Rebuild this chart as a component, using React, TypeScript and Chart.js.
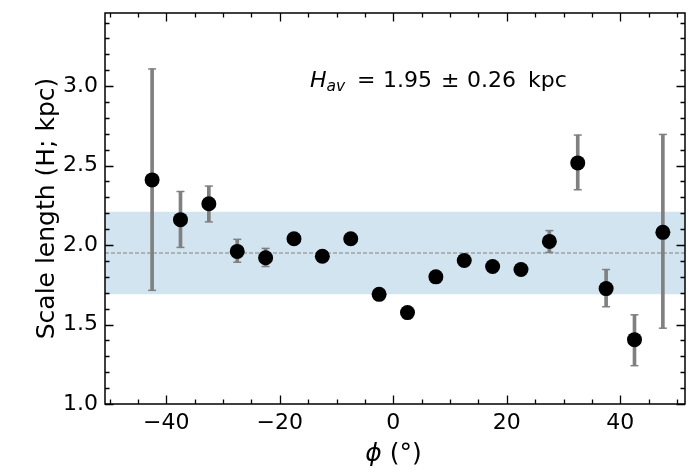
import { useEffect, useRef } from "react";
import { Chart, registerables, type Plugin } from "chart.js";

Chart.register(...registerables);

// azimuth bins (deg)
const phi = [
  -42.5, -37.5, -32.5, -27.5, -22.5, -17.5, -12.5, -7.5, -2.5, 2.5, 7.5, 12.5,
  17.5, 22.5, 27.5, 32.5, 37.5, 42.5, 47.5,
];
// scale length H (kpc)
const scaleLength = [
  2.41, 2.16, 2.26, 1.96, 1.92, 2.04, 1.93, 2.04, 1.69, 1.575, 1.8, 1.903,
  1.865, 1.846, 2.023, 2.517, 1.726, 1.405, 2.08,
];
const errLow = [
  1.715, 1.985, 2.146, 1.892, 1.865, 2.01, 1.9, 2.01, 1.66, 1.545, 1.77, 1.875,
  1.835, 1.816, 1.954, 2.348, 1.612, 1.241, 1.477,
];
const errHigh = [
  3.108, 2.337, 2.371, 2.036, 1.979, 2.07, 1.955, 2.07, 1.72, 1.6, 1.83, 1.93,
  1.895, 1.876, 2.091, 2.692, 1.846, 1.561, 2.696,
];

const hAvg = 1.95;
const hSpread = 0.26;

const xRange = [-50.8, 51.4];
const yRange = [1.0, 3.46];
const xTicks = [-40, -20, 0, 20, 40];
const yTicks = [1.0, 1.5, 2.0, 2.5, 3.0];

const FONT = "DejaVu Sans";
const GREY = "#808080";

const fmtX = (v: number) => (v < 0 ? "\u2212" + Math.abs(v) : String(v));

// frame, inward ticks on all sides, x title and the H_av note
const decor: Plugin<"scatter"> = {
  id: "decor",
  afterDraw(chart) {
    const { ctx, chartArea: a } = chart;
    const xs = chart.scales.x;
    const ys = chart.scales.y;
    ctx.save();
    ctx.strokeStyle = "#000";
    ctx.lineWidth = 1.3;

    const tickX = (v: number, len: number) => {
      const px = Math.round(xs.getPixelForValue(v)) + 0.5;
      ctx.beginPath();
      ctx.moveTo(px, a.bottom);
      ctx.lineTo(px, a.bottom - len);
      ctx.moveTo(px, a.top);
      ctx.lineTo(px, a.top + len);
      ctx.stroke();
    };
    const tickY = (v: number, len: number) => {
      const py = Math.round(ys.getPixelForValue(v)) + 0.5;
      ctx.beginPath();
      ctx.moveTo(a.left, py);
      ctx.lineTo(a.left + len, py);
      ctx.moveTo(a.right, py);
      ctx.lineTo(a.right - len, py);
      ctx.stroke();
    };
    for (let v = -50; v <= 50; v += 5) tickX(v, xTicks.includes(v) ? 8.5 : 4.5);
    for (let k = 10; k <= 34; k++) {
      const v = k / 10;
      tickY(v, k % 5 === 0 ? 8.5 : 4.5);
    }

    ctx.lineWidth = 1.5;
    ctx.strokeRect(a.left, a.top, a.right - a.left, a.bottom - a.top);

    ctx.fillStyle = "#000";
    ctx.textBaseline = "alphabetic";
    ctx.textAlign = "left";

    // x title: italic phi + (°)
    const cx = (a.left + a.right) / 2;
    ctx.font = `italic 25px "${FONT}"`;
    const wPhi = ctx.measureText("\u03d5").width;
    ctx.font = `25px "${FONT}"`;
    const wRest = ctx.measureText(" (\u00b0)").width;
    const x0 = cx - 1.5 - (wPhi + wRest) / 2;
    ctx.font = `italic 25px "${FONT}"`;
    ctx.fillText("\u03d5", x0, 461);
    ctx.font = `25px "${FONT}"`;
    ctx.fillText(" (\u00b0)", x0 + wPhi, 461);

    // annotation
    const base = 87;
    ctx.font = `italic 22px "${FONT}"`;
    ctx.fillText("H", 310, base);
    const wH = ctx.measureText("H").width;
    ctx.font = `italic 15.5px "${FONT}"`;
    ctx.fillText("av", 310 + wH, base + 3.5);
    ctx.font = `22px "${FONT}"`;
    ctx.fillText("=", 357, base);
    ctx.fillText("1.95", 383, base);
    ctx.fillText("\u00b1", 441, base);
    ctx.fillText("0.26", 467, base);
    ctx.fillText("kpc", 528, base);
    ctx.restore();
  },
};

function ScaleLengthChart() {
  const canvasRef = useRef<HTMLCanvasElement | null>(null);

  useEffect(() => {
    const canvas = canvasRef.current;
    if (!canvas) return;

    const chart = new Chart(canvas, {
      type: "scatter",
      data: {
        datasets: [
          {
            type: "line",
            data: [
              { x: xRange[0], y: hAvg + hSpread },
              { x: xRange[1], y: hAvg + hSpread },
            ],
            borderWidth: 0,
            pointRadius: 0,
            fill: { target: { value: hAvg - hSpread } },
            backgroundColor: "rgba(31, 119, 180, 0.2)",
            order: 5,
          },
          {
            type: "line",
            data: [
              { x: xRange[0], y: hAvg },
              { x: xRange[1], y: hAvg },
            ],
            borderColor: GREY,
            borderWidth: 1,
            borderDash: [4, 2],
            pointRadius: 0,
            fill: false,
            order: 4,
          },
          {
            type: "bar",
            data: phi.map((x, i) => ({ x, y: [errLow[i], errHigh[i]] })),
            backgroundColor: GREY,
            borderWidth: 0,
            barThickness: 3,
            order: 3,
          } as any,
          {
            type: "scatter",
            data: phi.flatMap((x, i) => [
              { x, y: errLow[i] },
              { x, y: errHigh[i] },
            ]),
            pointStyle: "line",
            pointRadius: 4,
            borderColor: GREY,
            borderWidth: 1.5,
            order: 2,
          },
          {
            type: "scatter",
            data: phi.map((x, i) => ({ x, y: scaleLength[i] })),
            pointRadius: 7.5,
            backgroundColor: "#000",
            borderWidth: 0,
            order: 1,
          },
        ],
      },
      options: {
        animation: false,
        responsive: true,
        maintainAspectRatio: false,
        events: [],
        layout: { padding: { top: 13, right: 15, left: 0, bottom: 0 } },
        plugins: {
          legend: { display: false },
          tooltip: { enabled: false },
        },
        scales: {
          x: {
            type: "linear",
            position: "bottom",
            min: xRange[0],
            max: xRange[1],
            offset: false,
            grid: { display: false, drawTicks: false, offset: false },
            border: { display: false },
            afterBuildTicks: (s) => {
              s.ticks = xTicks.map((value) => ({ value }));
            },
            afterFit: (s) => {
              s.height = 71;
              s.paddingLeft = 0;
              s.paddingRight = 0;
            },
            ticks: {
              padding: 6,
              color: "#000",
              maxRotation: 0,
              autoSkip: false,
              font: { family: FONT, size: 22 },
              callback: (v) => fmtX(Number(v)),
            },
          },
          y: {
            type: "linear",
            min: yRange[0],
            max: yRange[1],
            beginAtZero: false,
            grid: { display: false, drawTicks: false },
            border: { display: false },
            afterBuildTicks: (s) => {
              s.ticks = yTicks.map((value) => ({ value }));
            },
            afterFit: (s) => {
              s.width = 105;
              s.paddingTop = 0;
              s.paddingBottom = 0;
            },
            title: {
              display: true,
              text: "Scale length (H; kpc)",
              color: "#000",
              font: { family: FONT, size: 25 },
              padding: { top: 32, bottom: 0 },
            },
            ticks: {
              padding: 7,
              color: "#000",
              autoSkip: false,
              font: { family: FONT, size: 22 },
              callback: (v) => Number(v).toFixed(1),
            },
          },
        },
      },
      plugins: [decor],
    });

    return () => chart.destroy();
  }, []);

  return (
    <div
      style={{
        position: "absolute",
        left: 0,
        top: 0,
        width: 700,
        height: 475,
        background: "#fff",
      }}
    >
      <canvas ref={canvasRef} />
    </div>
  );
}

export default function App() {
  return <ScaleLengthChart />;
}
